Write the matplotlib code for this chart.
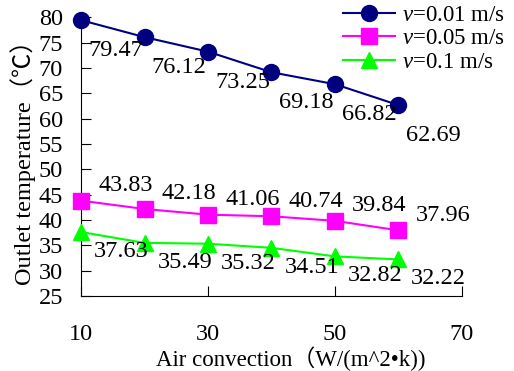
import matplotlib
matplotlib.use("Agg")
import matplotlib.pyplot as plt

plt.rcParams['font.family'] = ['Liberation Serif', 'Noto Sans CJK SC']
plt.rcParams['mathtext.fontset'] = 'custom'
plt.rcParams['mathtext.it'] = 'Liberation Serif:italic'
plt.rcParams['mathtext.rm'] = 'Liberation Serif'

x = [10, 20, 30, 40, 50, 60]
v001 = [79.47, 76.12, 73.25, 69.18, 66.82, 62.69]
v005 = [43.83, 42.18, 41.06, 40.74, 39.84, 37.96]
v01 = [37.63, 35.49, 35.32, 34.51, 32.82, 32.22]
labels = ["$v$=0.01 m/s", "$v$=0.05 m/s", "$v$=0.1 m/s"]
xticks = [10, 30, 50, 70]
yticks = list(range(25, 81, 5))

fs = 17.5
fig = plt.figure(figsize=(5.14, 3.71), dpi=100)
ax = fig.add_axes([0.1576, 0.2022, 0.7412, 0.7507])

series = [
    (v001, '#000080', 'o', (25, -22)),
    (v005, '#FF00FF', 's', (32, 11)),
    (v01, '#00FF00', '^', (29, -14)),
]
for (vals, col, mk, off), lab in zip(series, labels):
    ax.plot(x, vals, color=col, marker=mk, markersize=11.5, linewidth=1.5,
            label=lab, clip_on=False, zorder=3)
    for xi, yi in zip(x, vals):
        ax.annotate(f"{yi:.2f}", (xi, yi), xytext=off, textcoords='offset points',
                    ha='center', va='center', fontsize=fs)

ax.set_xlim(10, 70)
ax.set_ylim(25, 80)
ax.set_xticks(xticks)
ax.set_yticks(yticks)
ax.spines['top'].set_visible(False)
ax.spines['right'].set_visible(False)
ax.tick_params(axis='y', direction='in', length=7, labelsize=fs, pad=13)
ax.tick_params(axis='x', direction='in', length=7, labelsize=fs, pad=20)

ax.set_xlabel("Air convection（W/(m^2•k))", fontsize=16.5)
ax.xaxis.set_label_coords(0.55, -0.18)
ax.set_ylabel("Outlet temperature（℃）", fontsize=fs, labelpad=2)

ax.legend(loc='upper left', bbox_to_anchor=(0.688, 1.045), frameon=False,
          fontsize=16.5, handlelength=2.27, handletextpad=0.3, labelspacing=0.1,
          borderaxespad=0, borderpad=0)

fig.savefig("out.png", dpi=100)
